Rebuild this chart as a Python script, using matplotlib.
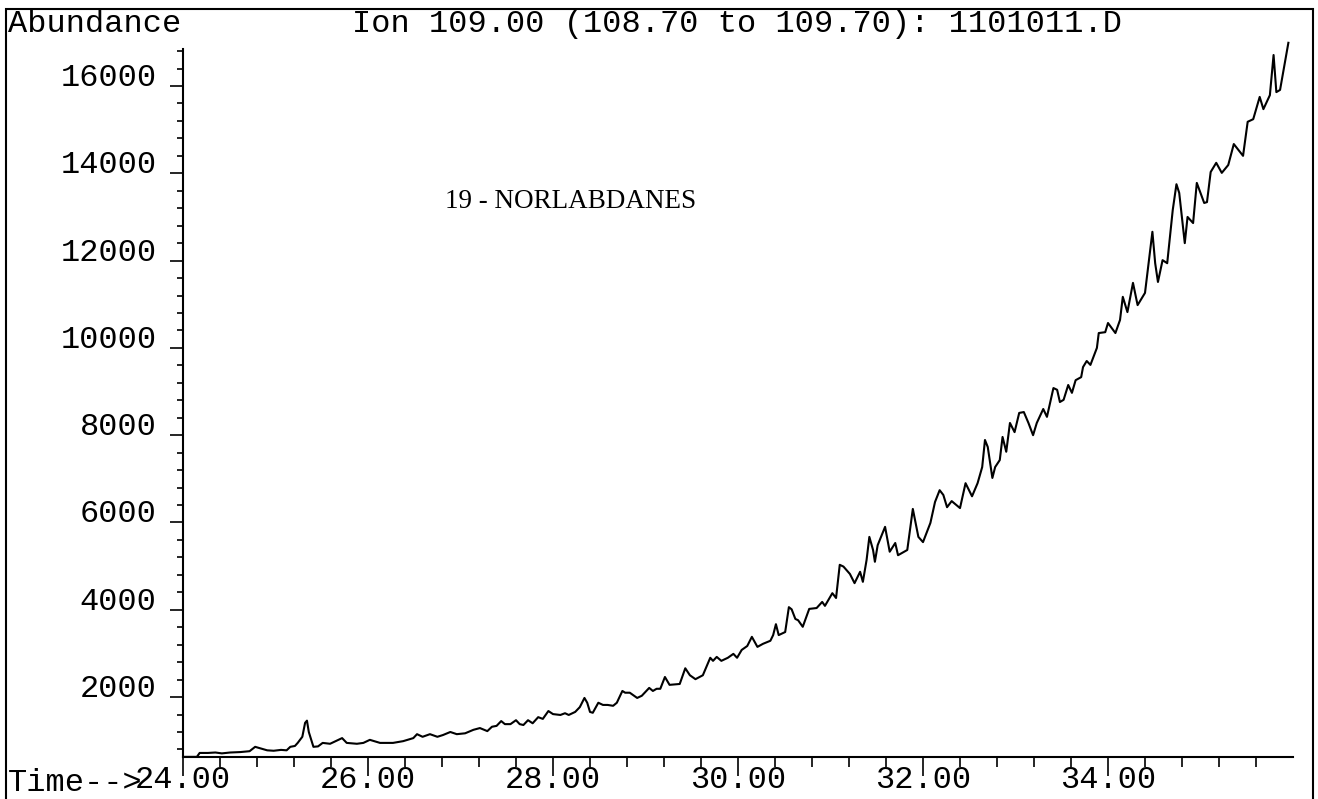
import matplotlib.pyplot as plt
from matplotlib.patches import Rectangle
from matplotlib.ticker import FixedLocator
import numpy as np

# Ion 109 trace, retention time (min) vs abundance
time_min = [
    24.00, 24.15, 24.18, 24.27, 24.35, 24.42, 24.51, 24.62, 24.72, 24.78,
    24.83, 24.91, 24.98, 25.06, 25.12, 25.16, 25.21, 25.24, 25.29, 25.32,
    25.34, 25.36, 25.41, 25.46, 25.51, 25.59, 25.66, 25.72, 25.77, 25.88,
    25.95, 26.02, 26.13, 26.27, 26.38, 26.49, 26.53, 26.59, 26.67, 26.75,
    26.81, 26.89, 26.96, 27.05, 27.14, 27.21, 27.29, 27.34, 27.39, 27.44,
    27.48, 27.54, 27.60, 27.64, 27.68, 27.73, 27.78, 27.84, 27.89, 27.95,
    28.00, 28.08, 28.13, 28.17, 28.24, 28.29, 28.34, 28.37, 28.40, 28.43,
    28.49, 28.54, 28.59, 28.65, 28.69, 28.75, 28.78, 28.83, 28.91, 28.96,
    29.04, 29.08, 29.12, 29.16, 29.21, 29.26, 29.37, 29.43, 29.48, 29.54,
    29.62, 29.70, 29.73, 29.77, 29.82, 29.89, 29.95, 29.99, 30.04, 30.10,
    30.15, 30.21, 30.27, 30.35, 30.38, 30.41, 30.44, 30.51, 30.55, 30.58,
    30.62, 30.65, 30.70, 30.77, 30.85, 30.91, 30.94, 31.02, 31.06, 31.10,
    31.14, 31.21, 31.26, 31.32, 31.35, 31.39, 31.42, 31.46, 31.48, 31.51,
    31.59, 31.64, 31.70, 31.73, 31.83, 31.89, 31.95, 32.00, 32.08, 32.13,
    32.18, 32.22, 32.26, 32.31, 32.40, 32.46, 32.53, 32.59, 32.64, 32.67,
    32.70, 32.75, 32.78, 32.83, 32.86, 32.90, 32.94, 32.99, 33.04, 33.09,
    33.14, 33.19, 33.23, 33.30, 33.34, 33.41, 33.45, 33.48, 33.52, 33.57,
    33.61, 33.65, 33.71, 33.73, 33.77, 33.81, 33.88, 33.90, 33.97, 34.00,
    34.08, 34.13, 34.16, 34.21, 34.27, 34.32, 34.40, 34.48, 34.51, 34.54,
    34.59, 34.64, 34.70, 34.74, 34.77, 34.83, 34.86, 34.92, 34.96, 35.04,
    35.07, 35.11, 35.17, 35.23, 35.30, 35.36, 35.46, 35.51, 35.57, 35.64,
    35.68, 35.75, 35.79, 35.82, 35.86, 35.95,
]
abundance = [
    630, 630, 720, 720, 730, 710, 730, 740, 760, 860,
    830, 780, 770, 790, 780, 860, 880, 950, 1090, 1410,
    1460, 1200, 860, 870, 950, 930, 1000, 1060, 950, 930,
    950, 1020, 950, 950, 990, 1060, 1150, 1090, 1150, 1090,
    1130, 1200, 1150, 1170, 1250, 1290, 1220, 1320, 1340, 1450,
    1380, 1380, 1470, 1380, 1360, 1470, 1400, 1540, 1500, 1680,
    1610, 1590, 1630, 1590, 1660, 1770, 1980, 1870, 1660, 1640,
    1870, 1820, 1820, 1800, 1870, 2140, 2100, 2100, 1980, 2030,
    2210, 2140, 2190, 2190, 2460, 2280, 2300, 2660, 2500, 2410,
    2500, 2900, 2830, 2920, 2830, 2900, 2990, 2900, 3080, 3170,
    3380, 3150, 3220, 3290, 3420, 3670, 3420, 3490, 4060, 4010,
    3790, 3760, 3610, 4020, 4040, 4180, 4090, 4380, 4270, 5030,
    4990, 4820, 4610, 4870, 4640, 5140, 5670, 5370, 5100, 5480,
    5900, 5330, 5530, 5250, 5370, 6310, 5670, 5550, 5990, 6470,
    6740, 6630, 6350, 6490, 6330, 6900, 6600, 6900, 7270, 7890,
    7730, 7020, 7270, 7430, 7960, 7620, 8280, 8070, 8510, 8530,
    8280, 8000, 8280, 8600, 8420, 9080, 9040, 8760, 8810, 9150,
    8970, 9260, 9330, 9560, 9700, 9610, 10000, 10340, 10360, 10570,
    10340, 10640, 11170, 10820, 11490, 10980, 11260, 12660, 11940, 11510,
    12010, 11940, 13160, 13750, 13550, 12400, 13000, 12860, 13780, 13320,
    13340, 14030, 14240, 14010, 14190, 14670, 14400, 15180, 15240, 15750,
    15470, 15790, 16710, 15860, 15910, 16990,
]

x_major = [24, 26, 28, 30, 32, 34]
y_major = [2000, 4000, 6000, 8000, 10000, 12000, 14000, 16000]

title = "Ion 109.00 (108.70 to 109.70): 1101011.D"
peak_label = "19 - NORLABDANES"

plt.rcParams['font.family'] = 'Liberation Mono'
W, H = 1318, 799
fs = 23
fig = plt.figure(figsize=(W / 100, H / 100), dpi=100)
ax = fig.add_axes([183 / W, 42 / H, 1110 / W, 717 / H])

ax.plot(time_min, abundance, color='black', lw=1.5)
ax.set_xlim(24, 36)
ax.set_ylim(627, 17054)

ax.spines['top'].set_visible(False)
ax.spines['right'].set_visible(False)
ax.spines['left'].set_bounds(627, 16850)
ax.spines['left'].set_linewidth(1.5)
ax.spines['bottom'].set_linewidth(1.5)

ax.xaxis.set_major_locator(FixedLocator(x_major))
ax.xaxis.set_minor_locator(FixedLocator(np.arange(24.4, 35.7, 0.4)))
ax.set_xticklabels(["%.2f" % t for t in x_major])
ax.yaxis.set_major_locator(FixedLocator(y_major))
ax.yaxis.set_minor_locator(FixedLocator(np.arange(800, 16801, 400)))
ax.set_yticklabels([str(v) for v in y_major])

ax.tick_params(axis='both', which='both', direction='out', width=1.2,
               labelsize=fs, colors='black')
ax.tick_params(axis='y', which='major', length=9.5, pad=9.5)
ax.tick_params(axis='y', which='minor', length=4.5)
ax.tick_params(axis='x', which='major', length=14, pad=-8)
ax.tick_params(axis='x', which='minor', length=7.5)
for lab in ax.get_yticklabels():
    lab.set_verticalalignment('baseline')

# page frame
fig.add_artist(Rectangle((6 / W, -0.05), (1313 - 6) / W, 0.05 + (H - 9) / H,
                         fill=False, lw=1.5, ec='black',
                         transform=fig.transFigure))

fig.text(8 / W, 1 - 32 / H, "Abundance", fontsize=fs, va='baseline')
fig.text(352 / W, 1 - 32 / H, title, fontsize=fs, va='baseline')
fig.text(8 / W, 1 - 791 / H, "Time-->", fontsize=fs, va='baseline')
fig.text(445 / W, 1 - 208 / H, peak_label, fontsize=19.5, va='baseline',
         family='Liberation Serif')

fig.savefig("out.png", dpi=100)
